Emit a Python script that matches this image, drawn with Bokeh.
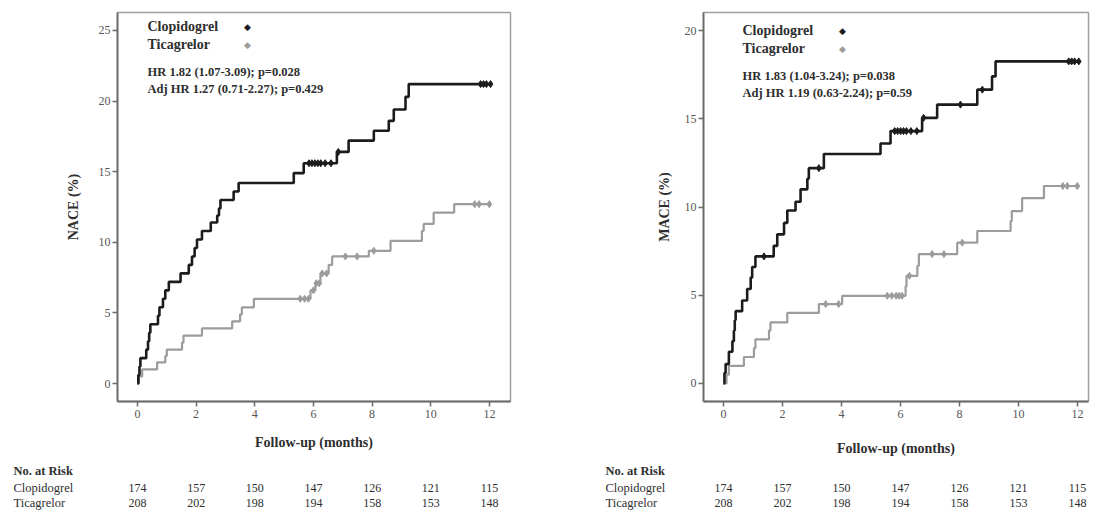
import numpy as np
from bokeh.plotting import figure
from bokeh.models import Label, Range1d, FixedTicker, ColumnDataSource
from bokeh.core.properties import value
from bokeh.layouts import row, column
from bokeh.embed import file_html
from bokeh.resources import INLINE

FONT = "Liberation Serif"

# ---------------- data ----------------
months = [0, 2, 4, 6, 8, 10, 12]
clop_risk = [174, 157, 150, 147, 126, 121, 115]
tica_risk = [208, 202, 198, 194, 158, 153, 148]

# NACE, Clopidogrel
nace_clop_t = [0, 0.03, 0.07, 0.10, 0.30, 0.36, 0.40, 0.44, 0.70, 0.75, 0.87, 0.95, 1.07,
               1.47, 1.75, 1.86, 1.95, 2.03, 2.20, 2.50, 2.72, 2.78, 2.83, 3.28, 3.45,
               5.33, 5.67, 6.80, 7.20, 8.06, 8.57, 8.74, 9.14, 9.25, 12.04]
nace_clop_v = [0, 0.6, 1.2, 1.8, 2.4, 3.0, 3.6, 4.2, 4.8, 5.4, 6.0, 6.6, 7.2,
               7.8, 8.4, 9.0, 9.6, 10.2, 10.8, 11.4, 11.9, 12.4, 13.0, 13.6, 14.2,
               14.9, 15.6, 16.4, 17.2, 17.9, 18.6, 19.4, 20.3, 21.2, 21.2]
nace_clop_cens = [5.85, 5.95, 6.05, 6.15, 6.25, 6.4, 6.6, 6.85, 11.7, 11.8, 11.9, 12.04]

# NACE, Ticagrelor
nace_tica_t = [0, 0.05, 0.16, 0.67, 0.95, 1.00, 1.52, 1.57, 2.20, 3.23, 3.50, 3.56, 3.97,
               5.90, 6.07, 6.24, 6.52, 6.64, 7.89, 8.63, 9.70, 9.76, 10.10, 10.80, 12.00]
nace_tica_v = [0, 0.5, 1.0, 1.5, 1.95, 2.4, 2.9, 3.4, 3.9, 4.4, 4.9, 5.4, 6.0,
               6.6, 7.1, 7.8, 8.4, 9.0, 9.4, 10.1, 10.8, 11.3, 12.1, 12.7, 12.7]
nace_tica_cens = [5.55, 5.7, 5.83, 6.0, 6.1, 6.2, 6.3, 6.45, 7.09, 7.49, 8.06, 11.5, 11.65, 12.0]

# MACE, Clopidogrel
mace_clop_t = [0, 0.03, 0.07, 0.18, 0.30, 0.35, 0.38, 0.41, 0.63, 0.80, 0.92, 0.97, 1.08,
               1.70, 1.82, 2.05, 2.16, 2.44, 2.61, 2.84, 2.89, 3.40,
               5.32, 5.66, 6.73, 7.24, 8.60, 9.10, 9.22, 12.04]
mace_clop_v = [0, 0.6, 1.1, 1.8, 2.4, 3.0, 3.6, 4.1, 4.7, 5.35, 6.0, 6.6, 7.2,
               7.8, 8.45, 9.1, 9.8, 10.3, 11.0, 11.6, 12.2, 13.0,
               13.6, 14.3, 15.05, 15.8, 16.65, 17.4, 18.25, 18.25]
mace_clop_cens = [1.37, 3.23, 5.8, 5.9, 6.0, 6.1, 6.2, 6.35, 6.55, 6.78, 8.03, 8.77,
                  11.7, 11.8, 11.9, 12.04]

# MACE, Ticagrelor
mace_tica_t = [0, 0.10, 0.18, 0.69, 1.03, 1.08, 1.54, 1.59, 2.16, 3.23, 4.02,
               6.17, 6.20, 6.57, 6.62, 7.92, 8.60, 9.73, 9.77, 10.12, 10.86, 12.00]
mace_tica_v = [0, 0.5, 1.0, 1.5, 2.0, 2.5, 3.0, 3.46, 4.0, 4.5, 4.97,
               5.5, 6.1, 6.67, 7.33, 7.98, 8.64, 9.2, 9.77, 10.5, 11.19, 11.19]
mace_tica_cens = [3.46, 3.9, 5.55, 5.7, 5.85, 5.95, 6.05, 6.3, 7.07, 7.47, 8.09, 11.5, 11.65, 11.99]

row_names = ["Clopidogrel", "Ticagrelor"]

BLACK = "#1c1c1c"
GREY = "#9c9c9c"
TXT = "#2e2e2e"
MAIN_H = 460
TABLE_H = 50


def step_at(ts, vs, t):
    ts = np.asarray(ts); vs = np.asarray(vs)
    idx = np.searchsorted(ts, t, side="right") - 1
    return vs[np.clip(idx, 0, len(vs) - 1)]


def lab(p, text, x, y, size="12px", bold=False, align="left", color=TXT):
    p.add_layout(Label(x=x, y=y, x_units="screen", y_units="screen", text=text,
                       text_font=FONT, text_font_size=size,
                       text_font_style="bold" if bold else "normal",
                       text_align=align, text_baseline="middle",
                       text_color=color))


def panel(width, mbl, mbr, mbb, xr, yr, yticks, ylabel, ylab_standoff, xlab_standoff,
          ct, cv, ccens, tt, tv, tcens, hr1, hr2, leg_x, leg_y, mk_x):
    p = figure(width=width, height=MAIN_H, output_backend="svg", toolbar_location=None,
               x_range=Range1d(*xr), y_range=Range1d(*yr),
               min_border_left=mbl, min_border_right=mbr,
               min_border_top=12, min_border_bottom=mbb)
    p.grid.visible = False
    p.outline_line_color = "#a0a0a0"
    p.outline_line_width = 1.5
    p.background_fill_color = "white"
    p.border_fill_color = "white"

    for ax in (p.xaxis[0], p.yaxis[0]):
        ax.axis_line_color = "#6a6a6a"
        ax.axis_line_width = 1.8
        ax.major_tick_line_color = "#6a6a6a"
        ax.major_tick_line_width = 1.5
        ax.major_tick_out = 5
        ax.major_tick_in = 0
        ax.minor_tick_line_color = None
        ax.major_label_text_font = FONT
        ax.major_label_text_font_size = "12px"
        ax.major_label_text_color = "#555555"
        ax.axis_label_text_font = FONT
        ax.axis_label_text_font_size = "14px"
        ax.axis_label_text_font_style = "bold"
        ax.axis_label_text_color = TXT

    p.xaxis.ticker = FixedTicker(ticks=months)
    p.yaxis.ticker = FixedTicker(ticks=yticks)
    p.xaxis.axis_label = "Follow-up (months)"
    p.yaxis.axis_label = ylabel
    p.xaxis.major_label_standoff = 3
    p.yaxis.major_label_standoff = 2
    p.xaxis.axis_label_standoff = xlab_standoff
    p.yaxis.axis_label_standoff = ylab_standoff

    # curves
    p.step(tt, tv, mode="after", line_color=GREY, line_width=2.2)
    p.step(ct, cv, mode="after", line_color=BLACK, line_width=2.6)
    p.scatter(tcens, step_at(tt, tv, tcens), marker="diamond", size=7,
              fill_color=GREY, line_color=GREY)
    p.scatter(ccens, step_at(ct, cv, ccens), marker="diamond", size=7,
              fill_color=BLACK, line_color=BLACK)

    # legend (text + markers)
    lab(p, "Clopidogrel", leg_x, leg_y, size="14px", bold=True)
    lab(p, "Ticagrelor", leg_x, leg_y - 18, size="14px", bold=True)
    lab(p, "\u25c6", mk_x, leg_y, size="9px", align="center", color=BLACK)
    lab(p, "\u25c6", mk_x, leg_y - 18, size="9px", align="center", color=GREY)
    lab(p, hr1, leg_x, leg_y - 45, size="12.5px", bold=True)
    lab(p, hr2, leg_x, leg_y - 62, size="12.5px", bold=True)
    return p


def table(width, x0_px, px_per_month, label_px):
    # x range chosen so that month positions align with the main panel ticks
    xs = (0 - x0_px) / px_per_month
    xe = (width - x0_px) / px_per_month
    t = figure(width=width, height=TABLE_H, output_backend="svg", toolbar_location=None,
               x_range=Range1d(xs, xe), y_range=Range1d(0, TABLE_H),
               min_border_left=0, min_border_right=0, min_border_top=0,
               min_border_bottom=0)
    t.axis.visible = False
    t.grid.visible = False
    t.outline_line_color = None
    lx = (label_px - x0_px) / px_per_month
    t.text(x=[lx], y=[40], text=["No. at Risk"], text_font=value(FONT),
           text_font_size="12.5px", text_font_style="bold", text_color=TXT,
           text_baseline="middle")
    t.text(x=[lx, lx], y=[23, 8], text=row_names, text_font=value(FONT),
           text_font_size="12.5px", text_color=TXT, text_baseline="middle")
    src = ColumnDataSource(dict(
        x=months + months,
        y=[23] * len(months) + [8] * len(months),
        txt=[str(v) for v in clop_risk + tica_risk]))
    t.text(x="x", y="y", text="txt", source=src, text_font=value(FONT),
           text_font_size="12px", text_color=TXT, text_align="center",
           text_baseline="middle")
    return t


LW, RW = 572, 521

p1 = panel(LW, 117, 62, MAIN_H - 402, (-0.68, 12.72), (-1.27, 26.27),
           [0, 5, 10, 15, 20, 25], "NACE (%)", 15, 14,
           nace_clop_t, nace_clop_v, nace_clop_cens,
           nace_tica_t, nace_tica_v, nace_tica_cens,
           "HR 1.82 (1.07-3.09); p=0.028", "Adj HR 1.27 (0.71-2.27); p=0.429",
           30, 375, 130)

p2 = panel(RW, 131, 5, MAIN_H - 401, (-0.68, 12.37), (-1.02, 21.02),
           [0, 5, 10, 15, 20], "MACE (%)", 10, 20,
           mace_clop_t, mace_clop_v, mace_clop_cens,
           mace_tica_t, mace_tica_v, mace_tica_cens,
           "HR 1.83 (1.04-3.24); p=0.038", "Adj HR 1.19 (0.63-2.24); p=0.59",
           39, 371, 139)

t1 = table(LW, 137, 29.33, 13)
t2 = table(RW, 723 - LW, 29.5, 605 - LW)

layout = column(row(p1, p2), row(t1, t2))
open("out.html", "w").write(file_html(layout, INLINE))
